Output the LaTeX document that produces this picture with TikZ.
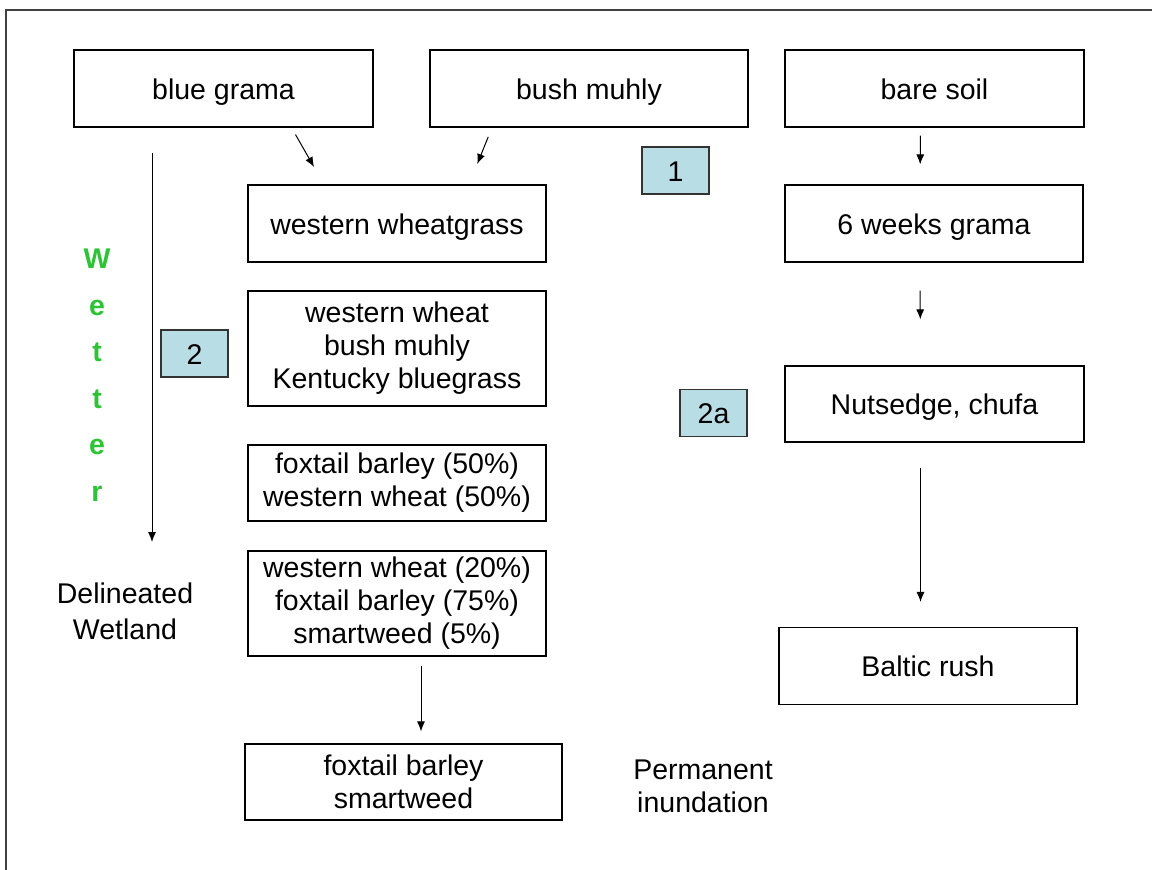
\documentclass[tikz,border=0pt]{standalone}
\usepackage{fontspec}
\setmainfont{Liberation Sans}
\usepackage{tikz}
\usetikzlibrary{arrows.meta}
\definecolor{tagfill}{RGB}{185,221,228}
\definecolor{wetgreen}{RGB}{44,196,52}

\begin{document}
\begin{tikzpicture}[
  x=1pt, y=-1pt,
  font=\fontsize{28.5}{33}\selectfont,
  box/.style={
    draw, line width=1.2pt, inner sep=0pt, align=center,
    minimum width=298pt, minimum height=77pt
  },
  one/.style={text height=24pt, text depth=3pt},
  tag/.style={
    draw=black!80, fill=tagfill, line width=1.2pt, inner sep=0pt,
    minimum width=67pt, minimum height=47pt, one
  },
  arr/.style={-{Latex[length=10pt,width=8pt]}, line width=1pt}
]
  \useasboundingbox (0,0) rectangle (1152,870);
  \draw[line width=1.5pt, black!75] (6,870) -- (6,10) -- (1152,10);
  \node[box, one, minimum width=299pt] (bg) at (223.5,88.5) {blue grama};
  \node[box, one, minimum width=318pt] (bm) at (589,88.5) {bush muhly};
  \node[box, one, minimum width=299pt] (bs) at (934.5,88.5) {bare soil};
  \node[box, one] (ww) at (397,223.5) {western wheatgrass};
  \node[box, one] (wg) at (934,223.5) {6 weeks grama};
  \node[box, minimum height=115pt] (mixa) at (397,348.5)
    {western wheat\\bush muhly\\Kentucky bluegrass};
  \node[box, one, minimum width=299pt, minimum height=76pt] (nut) at (934.5,404) {Nutsedge, chufa};
  \node[box, minimum height=76pt] (mixb) at (397,483)
    {foxtail barley (50\%)\\western wheat (50\%)};
  \node[box, minimum height=105pt] (mixc) at (397,603.5)
    {western wheat (20\%)\\foxtail barley (75\%)\\smartweed (5\%)};
  \node[box, minimum width=317pt, minimum height=76pt] (fb) at (403.5,782)
    {foxtail barley\\smartweed};
  \node[box, one] (bal) at (928,666) {Baltic rush};
  \foreach \n/\t/\x/\y in {tg1/1/675.5/170.5, tg2/2/194.5/353.5, tg2a/2a/713.5/413} {
    \node[tag] (\n) at (\x,\y){\t};
  }
  \node[align=center, text=wetgreen, font=\bfseries\fontsize{28.5}{46.5}\selectfont] (wet) at (97,375)
    {W\\e\\t\\t\\e\\r};
  \node[align=center, font=\fontsize{28.5}{36}\selectfont] (dw) at (125,611) {Delineated\\Wetland};
  \node[align=center] (pi) at (703,786) {Permanent\\inundation};
  \coordinate (wtop) at (152,153);
  \coordinate (wbot) at (152,542);
  \draw[arr] (wtop) -- (wbot);
  \draw[arr, shorten <=8pt, shorten >=20pt] ([xshift=68pt]bg.south) -- ([xshift=-73pt]ww.north);
  \draw[arr, shorten <=10pt, shorten >=22pt] ([xshift=-97pt]bm.south) -- ([xshift=72pt]ww.north);
  \draw[arr, shorten <=8pt, shorten >=20pt] ([xshift=-14pt]bs.south) -- ([xshift=-14pt]wg.north);
  \draw[arr, shorten <=28pt, shorten >=46pt] ([xshift=-14pt]wg.south) -- ([xshift=-14pt]nut.north);
  \draw[arr, shorten <=25pt, shorten >=25pt] ([xshift=-14pt]nut.south) -- ([xshift=-14pt]nut.south |- bal.north);
  \draw[arr, shorten <=9pt, shorten >=12pt] ([xshift=24pt]mixc.south) -- ([xshift=24pt]mixc.south |- fb.north);
\end{tikzpicture}
\end{document}
